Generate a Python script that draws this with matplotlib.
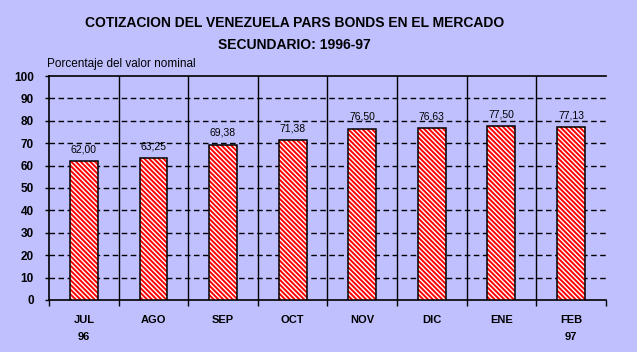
import matplotlib.pyplot as plt
import numpy as np

# Chart data
months = ['JUL\n96', 'AGO', 'SEP', 'OCT', 'NOV', 'DIC', 'ENE', 'FEB\n97']
prices = [62.00, 63.25, 69.38, 71.38, 76.50, 76.63, 77.50, 77.13]
yticks = list(range(0, 101, 10))

BG = '#C0C0FF'
plt.rcParams['font.family'] = ['Liberation Sans', 'DejaVu Sans']
plt.rcParams['hatch.linewidth'] = 1.4

fig = plt.figure(figsize=(6.37, 3.52), dpi=100, facecolor=BG)
ax = fig.add_axes([0.077, 0.148, 0.874, 0.636], facecolor=BG)

x = np.arange(len(months))

# hatched fill (red stripes on white) then black outline
ax.bar(x, prices, width=0.40, color='white', edgecolor='red', hatch='\\' * 7, linewidth=0, zorder=3)
ax.bar(x, prices, width=0.40, fill=False, edgecolor='black', linewidth=1.1, zorder=4)

for xi, v in zip(x, prices):
    ax.annotate(f'{v:.2f}'.replace('.', ','), (xi, v), xytext=(0, 5), textcoords='offset points',
                ha='center', va='bottom', fontsize=7.5, zorder=5)

# grid: dashed horizontal, solid vertical separators
for y in yticks[1:-1]:
    ax.axhline(y, color='black', lw=1, ls=(0, (4, 2.5)), zorder=1)
for b in np.arange(0.5, len(months) - 1, 1):
    ax.axvline(b, color='black', lw=1, zorder=1)

ax.set_xlim(-0.5, len(months) - 0.5)
ax.set_ylim(0, 100)
ax.set_yticks(yticks)
ax.set_yticklabels([str(t) for t in yticks], fontsize=8.5, fontweight='bold')
ax.tick_params(axis='y', length=3, width=1, pad=8)

ax.set_xticks(x)
ax.set_xticklabels(months, fontsize=8, fontweight='bold', linespacing=1.9)
ax.set_xticks(np.arange(-0.5, len(months), 1), minor=True)
ax.tick_params(axis='x', which='major', length=0, pad=11)
ax.tick_params(axis='x', which='minor', length=4, width=1, direction='out')

ax.spines['right'].set_visible(False)
for s in ['left', 'bottom', 'top']:
    ax.spines[s].set_linewidth(1.2)

fig.text(0.073, 0.80, 'Porcentaje del valor nominal', fontsize=8.5, ha='left', va='bottom')
fig.text(0.462, 0.935, 'COTIZACION DEL VENEZUELA PARS BONDS EN EL MERCADO', fontsize=10,
         fontweight='bold', ha='center', va='center')
fig.text(0.462, 0.873, 'SECUNDARIO: 1996-97', fontsize=10, fontweight='bold', ha='center', va='center')

fig.savefig('out.png', dpi=100, facecolor=BG)
